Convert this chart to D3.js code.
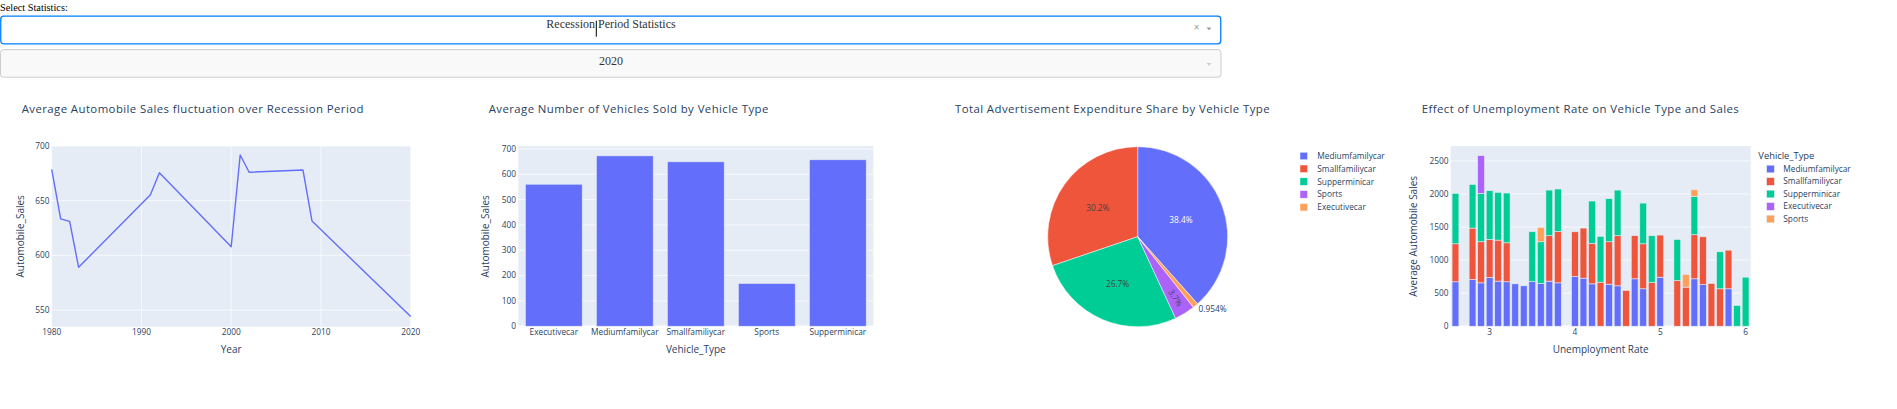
<!DOCTYPE html>
<html>
<head>
<meta charset="utf-8">
<script src="https://cdn.jsdelivr.net/npm/d3@7"></script>
<style>
  html, body { margin: 0; padding: 0; background: #fff; }
  svg { display: block; }
</style>
</head>
<body>
<svg id="page" width="1897" height="409"></svg>
<script>
// ---------------- DATA ----------------
const statLabel = "Select Statistics:";
const statSelected = "Recession Period Statistics";
const yearSelected = "2020";

const chart1Title = "Average Automobile Sales fluctuation over Recession Period";
const recessionYears = [1980, 1981, 1982, 1983, 1991, 1992, 2000, 2001, 2002, 2008, 2009, 2020];
const avgAutomobileSales = [678.6, 633.4, 631, 589, 655.5, 675.5, 607.8, 691.8, 676, 678, 631.4, 544];
const chart1YTicks = [550, 600, 650, 700];
const chart1XTicks = [1980, 1990, 2000, 2010, 2020];

const chart2Title = "Average Number of Vehicles Sold by Vehicle Type";
const vehicleTypes = ["Executivecar", "Mediumfamilycar", "Smallfamiliycar", "Sports", "Supperminicar"];
const vehicleAvgSales = [561, 673, 649.5, 169, 657.5];
const chart2YTicks = [0, 100, 200, 300, 400, 500, 600, 700];

const chart3Title = "Total Advertisement Expenditure Share by Vehicle Type";
const adTypes = ["Mediumfamilycar", "Smallfamiliycar", "Supperminicar", "Sports", "Executivecar"];
const adShare = [38.4, 30.2, 26.7, 3.7, 0.954];

const chart4Title = "Effect of Unemployment Rate on Vehicle Type and Sales";
const unemploymentRates = [2.6, 2.8, 2.9, 3.0, 3.1, 3.2, 3.3, 3.4, 3.5, 3.6, 3.7, 3.8, 4.0, 4.1, 4.2, 4.3,
                           4.4, 4.5, 4.6, 4.7, 4.8, 4.9, 5.0, 5.2, 5.3, 5.4, 5.5, 5.6, 5.7, 5.8, 5.9, 6.0];
const mediumSales    = [672, 707, 656, 737, 682, 672, 641, 611, 677, 646, 682, 656, 752, 727, 641, 0,
                        636, 611, 0, 717, 566, 0, 742, 0, 0, 717, 631, 0, 0, 566, 0, 0];
const smallSales     = [575, 778, 622, 576, 621, 590, 0, 0, 0, 0, 687, 778, 677, 758, 611, 667,
                        642, 758, 540, 652, 681, 662, 637, 692, 591, 667, 722, 646, 566, 585, 0, 0];
const superminiSales = [763, 661, 732, 737, 722, 753, 0, 0, 752, 632, 691, 642, 0, 0, 642, 691,
                        651, 691, 0, 0, 616, 707, 0, 621, 0, 580, 0, 0, 560, 0, 313, 742];
const executiveSales = [0, 0, 570, 0, 0, 0, 0, 0, 0, 0, 0, 0, 0, 0, 0, 0,
                        0, 0, 0, 0, 0, 0, 0, 0, 0, 0, 0, 0, 0, 0, 0, 0];
const sportsSales    = [0, 0, 0, 0, 0, 0, 0, 0, 0, 217, 0, 0, 0, 0, 0, 0,
                        0, 0, 0, 0, 0, 0, 0, 0, 192, 101, 0, 0, 0, 0, 0, 0];
const chart4Series = ["Mediumfamilycar", "Smallfamiliycar", "Supperminicar", "Executivecar", "Sports"];
const chart4YTicks = [0, 500, 1000, 1500, 2000, 2500];
const chart4XTicks = [3, 4, 5, 6];

// ---------------- STYLE ----------------
const C = { blue: "#636efa", red: "#EF553B", green: "#00cc96", purple: "#ab63fa", orange: "#FFA15A" };
const FONT = "'Open Sans', verdana, arial, sans-serif";
const TXT = "#2a3f5f";
const BG = "#E5ECF6";
const TICK_FS = 8.3, TITLE_FS = 11.4, AXT_FS = 10, LEG_FS = 8.3;
const PT = 146, PB = 326.7;

const svg = d3.select("#page");

// ---------------- DROPDOWNS ----------------
svg.append("text").attr("x", 0).attr("y", 11.2)
  .attr("font-family", "'Liberation Serif', 'Times New Roman', serif").attr("font-size", 10.3)
  .attr("fill", "#000").text(statLabel);

svg.append("rect").attr("x", 0.75).attr("y", 16.2).attr("width", 1220).attr("height", 27.6)
  .attr("rx", 3).attr("fill", "#fff").attr("stroke", "#007eff").attr("stroke-width", 1.3);
svg.append("text").attr("x", 611).attr("y", 28).attr("text-anchor", "middle")
  .attr("font-family", "'Liberation Serif', 'Times New Roman', serif").attr("font-size", 12)
  .attr("fill", "#333").text(statSelected);
svg.append("line").attr("x1", 596.3).attr("x2", 596.3).attr("y1", 20.7).attr("y2", 36.7)
  .attr("stroke", "#000").attr("stroke-width", 1);
svg.append("text").attr("x", 1196.7).attr("y", 31).attr("text-anchor", "middle")
  .attr("font-family", FONT).attr("font-size", 10).attr("fill", "#999").text("×");
svg.append("path").attr("d", "M1206.5,27.6 L1211.5,27.6 L1209,30.3 Z").attr("fill", "#999");

svg.append("rect").attr("x", 0.5).attr("y", 49.6).attr("width", 1220.5).attr("height", 27.6)
  .attr("rx", 3).attr("fill", "#f9f9f9").attr("stroke", "#ccc").attr("stroke-width", 1);
svg.append("text").attr("x", 611).attr("y", 65.3).attr("text-anchor", "middle")
  .attr("font-family", "'Liberation Serif', 'Times New Roman', serif").attr("font-size", 12)
  .attr("fill", "#333").text(yearSelected);
svg.append("path").attr("d", "M1206.5,63 L1211.5,63 L1209,65.7 Z").attr("fill", "#ccc");

// ---------------- helpers ----------------
function title(x, t) {
  svg.append("text").attr("x", x).attr("y", 113).attr("font-family", FONT)
    .attr("font-size", TITLE_FS).attr("letter-spacing", 0.42).attr("fill", TXT).text(t);
}
function yTitle(cx, t) {
  svg.append("text").attr("transform", `translate(${cx + 3.5},${(PT + PB) / 2}) rotate(-90)`)
    .attr("text-anchor", "middle").attr("font-family", FONT).attr("font-size", AXT_FS)
    .attr("fill", TXT).text(t);
}
function xTitle(cx, t) {
  svg.append("text").attr("x", cx).attr("y", 352.8).attr("text-anchor", "middle")
    .attr("font-family", FONT).attr("font-size", AXT_FS).attr("fill", TXT).text(t);
}
function plotBg(x0, x1) {
  svg.append("rect").attr("x", x0).attr("y", PT).attr("width", x1 - x0).attr("height", PB - PT).attr("fill", BG);
}
function yAxis(y, x0, x1, ticks, fmt, zeroline) {
  const g = svg.append("g");
  ticks.forEach(t => {
    g.append("line").attr("x1", x0).attr("x2", x1).attr("y1", y(t)).attr("y2", y(t))
      .attr("stroke", "#fff").attr("stroke-width", (zeroline && t === 0) ? 1.4 : 0.7);
    g.append("text").attr("x", x0 - 2.2).attr("y", y(t)).attr("dy", "0.35em").attr("text-anchor", "end")
      .attr("font-family", FONT).attr("font-size", TICK_FS).attr("fill", TXT).text(fmt(t));
  });
}
function xTickLabels(x, ticks, fmt) {
  ticks.forEach(t => {
    svg.append("text").attr("x", x(t)).attr("y", 335).attr("text-anchor", "middle")
      .attr("font-family", FONT).attr("font-size", TICK_FS).attr("fill", TXT).text(fmt(t));
  });
}

// ---------------- CHART 1 : line ----------------
{
  const x0 = 51.7, x1 = 410.7;
  const x = d3.scaleLinear().domain([1980, 2020]).range([x0, x1]);
  const y = d3.scaleLinear().domain([534.7, 700]).range([PB, PT]);
  title(21.7, chart1Title);
  plotBg(x0, x1);
  chart1XTicks.forEach(t => {
    svg.append("line").attr("x1", x(t)).attr("x2", x(t)).attr("y1", PT).attr("y2", PB)
      .attr("stroke", "#fff").attr("stroke-width", 0.7);
  });
  yAxis(y, x0, x1, chart1YTicks, d => d, false);
  xTickLabels(x, chart1XTicks, d => d);
  const pts = recessionYears.map((yr, i) => [yr, avgAutomobileSales[i]]);
  svg.append("path").datum(pts)
    .attr("d", d3.line().x(d => x(d[0])).y(d => y(d[1])))
    .attr("fill", "none").attr("stroke", C.blue).attr("stroke-width", 1.4).attr("stroke-linejoin", "round");
  xTitle((x0 + x1) / 2, "Year");
  yTitle(20, "Automobile_Sales");
}

// ---------------- CHART 2 : bars ----------------
{
  const x0 = 518.3, x1 = 873.3;
  const x = d3.scaleBand().domain(vehicleTypes).range([x0, x1]).paddingInner(0.2).paddingOuter(0.1);
  const y = d3.scaleLinear().domain([0, 712]).range([PB - 0.5, PT]);
  title(488.7, chart2Title);
  plotBg(x0, x1);
  yAxis(y, x0, x1, chart2YTicks, d => d, true);
  svg.append("g").selectAll("rect").data(vehicleTypes).join("rect")
    .attr("x", d => x(d)).attr("width", x.bandwidth())
    .attr("y", (d, i) => y(vehicleAvgSales[i])).attr("height", (d, i) => y(0) - y(vehicleAvgSales[i]))
    .attr("fill", C.blue).attr("stroke", BG).attr("stroke-width", 0.6);
  vehicleTypes.forEach(t => {
    svg.append("text").attr("x", x(t) + x.bandwidth() / 2).attr("y", 335).attr("text-anchor", "middle")
      .attr("font-family", FONT).attr("font-size", TICK_FS).attr("fill", TXT).text(t);
  });
  xTitle((x0 + x1) / 2, "Vehicle_Type");
  yTitle(485, "Automobile_Sales");
}

// ---------------- CHART 3 : pie ----------------
{
  const cx = 1137.7, cy = 236.7, R = 90;
  title(955, chart3Title);
  const pieColors = [C.blue, C.red, C.green, C.purple, C.orange];
  const total = d3.sum(adShare);
  const deg = adShare.map(v => v / total * 2 * Math.PI);
  // first slice ends at 12 o'clock on the right side; the rest run counter-clockwise from 12 o'clock
  const slices = [];
  slices.push({ i: 0, s: 0, e: deg[0] });
  let acc = 0;
  for (let i = 1; i < adShare.length; i++) {
    slices.push({ i, s: -(acc + deg[i]), e: -acc });
    acc += deg[i];
  }
  const arc = d3.arc().innerRadius(0).outerRadius(R);
  const g = svg.append("g").attr("transform", `translate(${cx},${cy})`);
  g.selectAll("path").data(slices).join("path")
    .attr("d", d => arc({ startAngle: d.s, endAngle: d.e }))
    .attr("fill", d => pieColors[d.i]).attr("stroke", "#fff").attr("stroke-width", 0.5);
  const fmt = d3.format(".3~r");
  const textColors = ["#fff", "#444", "#444", "#444", TXT];
  slices.forEach(d => {
    const mid = (d.s + d.e) / 2;
    const label = fmt(adShare[d.i] / total * 100) + "%";
    const sx = Math.sin(mid), sy = -Math.cos(mid);
    if (d.i === 4) {
      g.append("text").attr("x", sx * R + 3).attr("y", sy * R + 3.5).attr("dy", "0.35em")
        .attr("font-family", FONT).attr("font-size", LEG_FS).attr("fill", TXT).text(label);
    } else if (d.i === 3) {
      const r = 0.8 * R;
      const ang = (mid * 180 / Math.PI) - 90;
      g.append("text").attr("transform", `translate(${sx * r},${sy * r}) rotate(${ang})`)
        .attr("text-anchor", "middle").attr("dy", "0.35em")
        .attr("font-family", FONT).attr("font-size", LEG_FS).attr("fill", textColors[d.i]).text(label);
    } else {
      const r = [0.515, 0.545, 0.57][d.i] * R;
      g.append("text").attr("x", sx * r).attr("y", sy * r).attr("text-anchor", "middle").attr("dy", "0.35em")
        .attr("font-family", FONT).attr("font-size", LEG_FS).attr("fill", textColors[d.i]).text(label);
    }
  });
  // legend
  adTypes.forEach((t, i) => {
    const yy = 156 + i * 12.8;
    svg.append("rect").attr("x", 1300).attr("y", yy - 3.8).attr("width", 7.6).attr("height", 7.6)
      .attr("fill", pieColors[i]).attr("stroke", "#fff").attr("stroke-width", 0.5);
    svg.append("text").attr("x", 1317.3).attr("y", yy).attr("dy", "0.35em")
      .attr("font-family", FONT).attr("font-size", LEG_FS).attr("fill", TXT).text(t);
  });
}

// ---------------- CHART 4 : stacked bars ----------------
{
  const x0 = 1450.7, x1 = 1750.7;
  const x = d3.scaleLinear().domain([2.544, 6.06]).range([x0, x1]);
  const y = d3.scaleLinear().domain([0, 2727]).range([PB - 0.5, PT]);
  title(1421.7, chart4Title);
  plotBg(x0, x1);
  yAxis(y, x0, x1, chart4YTicks, d => d, true);
  const rows = unemploymentRates.map((r, i) => ({
    rate: r,
    "Mediumfamilycar": mediumSales[i],
    "Smallfamiliycar": smallSales[i],
    "Supperminicar": superminiSales[i],
    "Executivecar": executiveSales[i],
    "Sports": sportsSales[i]
  }));
  const stack = d3.stack().keys(chart4Series)(rows);
  const colors4 = [C.blue, C.red, C.green, C.purple, C.orange];
  const bw = x(2.6 + 0.08) - x(2.6);
  stack.forEach((layer, k) => {
    svg.append("g").selectAll("rect").data(layer.filter(d => d[1] - d[0] > 0)).join("rect")
      .attr("x", d => x(d.data.rate) - bw / 2).attr("width", bw)
      .attr("y", d => y(d[1])).attr("height", d => y(d[0]) - y(d[1]))
      .attr("fill", colors4[k]).attr("stroke", BG).attr("stroke-width", 0.6);
  });
  xTickLabels(x, chart4XTicks, d => d);
  xTitle((x0 + x1) / 2, "Unemployment Rate");
  yTitle(1413.3, "Average Automobile Sales");
  svg.append("text").attr("x", 1758.3).attr("y", 155.7).attr("dy", "0.35em")
    .attr("font-family", FONT).attr("font-size", 9.4).attr("fill", TXT).text("Vehicle_Type");
  chart4Series.forEach((t, i) => {
    const yy = 169 + i * 12.5;
    svg.append("rect").attr("x", 1766.7).attr("y", yy - 3.8).attr("width", 7.6).attr("height", 7.6)
      .attr("fill", colors4[i]).attr("stroke", BG).attr("stroke-width", 0.5);
    svg.append("text").attr("x", 1783.3).attr("y", yy).attr("dy", "0.35em")
      .attr("font-family", FONT).attr("font-size", LEG_FS).attr("fill", TXT).text(t);
  });
}
</script>
</body>
</html>
